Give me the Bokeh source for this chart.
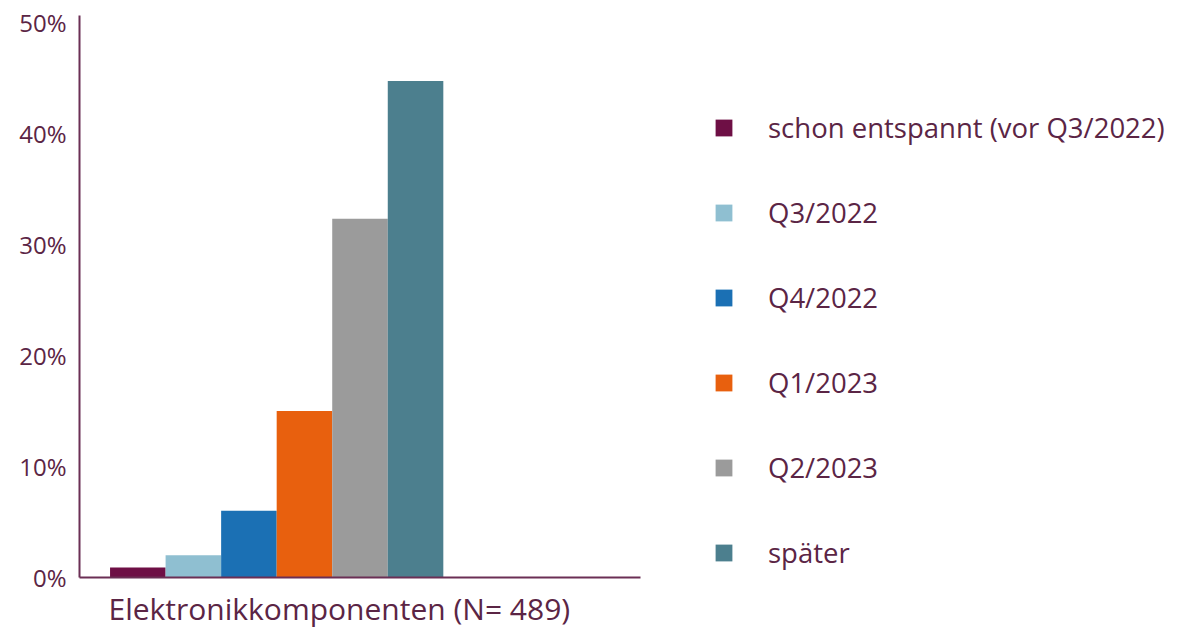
from bokeh.plotting import figure
from bokeh.models import Legend, LegendItem, NumeralTickFormatter, FixedTicker, Range1d, Title
from bokeh.embed import file_html
from bokeh.resources import INLINE

series = ["schon entspannt (vor Q3/2022)", "Q3/2022", "Q4/2022", "Q1/2023", "Q2/2023", "später"]
values = [0.009, 0.020, 0.060, 0.150, 0.323, 0.447]
colors = ["#6e0f45", "#8fbfd1", "#1b70b4", "#e8600e", "#9b9b9b", "#4c7f8e"]
category = "Elektronikkomponenten (N= 489)"
y_ticks = [0, 0.1, 0.2, 0.3, 0.4, 0.5]

TXT = "#5b2545"
AX = "#6b2f55"
FONT = "Open Sans"

p = figure(frame_width=561, frame_height=562, output_backend="svg", toolbar_location=None,
           x_range=Range1d(0, 10.1), y_range=Range1d(0, 0.506),
           min_border_left=79, min_border_top=15, min_border_right=0, min_border_bottom=59)
p.outline_line_color = None
p.xgrid.visible = False
p.ygrid.visible = False
p.background_fill_color = "white"
p.border_fill_color = "white"

items = []
for i, (s, v, c) in enumerate(zip(series, values, colors)):
    r = p.vbar(x=[1.05 + i], top=[v], width=1.0, bottom=0, fill_color=c, line_color=None)
    items.append(LegendItem(label=s, renderers=[r]))

yaxis = p.yaxis[0]
yaxis.ticker = FixedTicker(ticks=y_ticks)
yaxis.formatter = NumeralTickFormatter(format="0%")
yaxis.major_tick_out = 0
yaxis.major_tick_in = 0
yaxis.minor_tick_out = 0
yaxis.minor_tick_in = 0
yaxis.axis_line_color = AX
yaxis.axis_line_width = 2
yaxis.major_label_text_font = FONT
yaxis.major_label_text_font_size = "24px"
yaxis.major_label_text_color = TXT
yaxis.major_label_standoff = 13

xaxis = p.xaxis[0]
xaxis.ticker = FixedTicker(ticks=[])
xaxis.major_tick_out = 0
xaxis.minor_tick_out = 0
xaxis.axis_line_color = AX
xaxis.axis_line_width = 2

cat_title = Title(text=category, align="left", offset=29, standoff=17,
                  text_font=FONT, text_font_size="30px", text_font_style="normal",
                  text_color=TXT)
p.add_layout(cat_title, "below")

legend = Legend(items=items, location=(73, 6))
legend.border_line_color = None
legend.background_fill_alpha = 0
legend.padding = 0
legend.margin = 0
legend.glyph_width = 21
legend.glyph_height = 21
legend.label_height = 21
legend.label_standoff = 34
legend.spacing = 48
legend.label_text_font = FONT
legend.label_text_font_size = "27.5px"
legend.label_text_color = TXT
p.add_layout(legend, "right")

open("out.html", "w").write(file_html(p, INLINE))
